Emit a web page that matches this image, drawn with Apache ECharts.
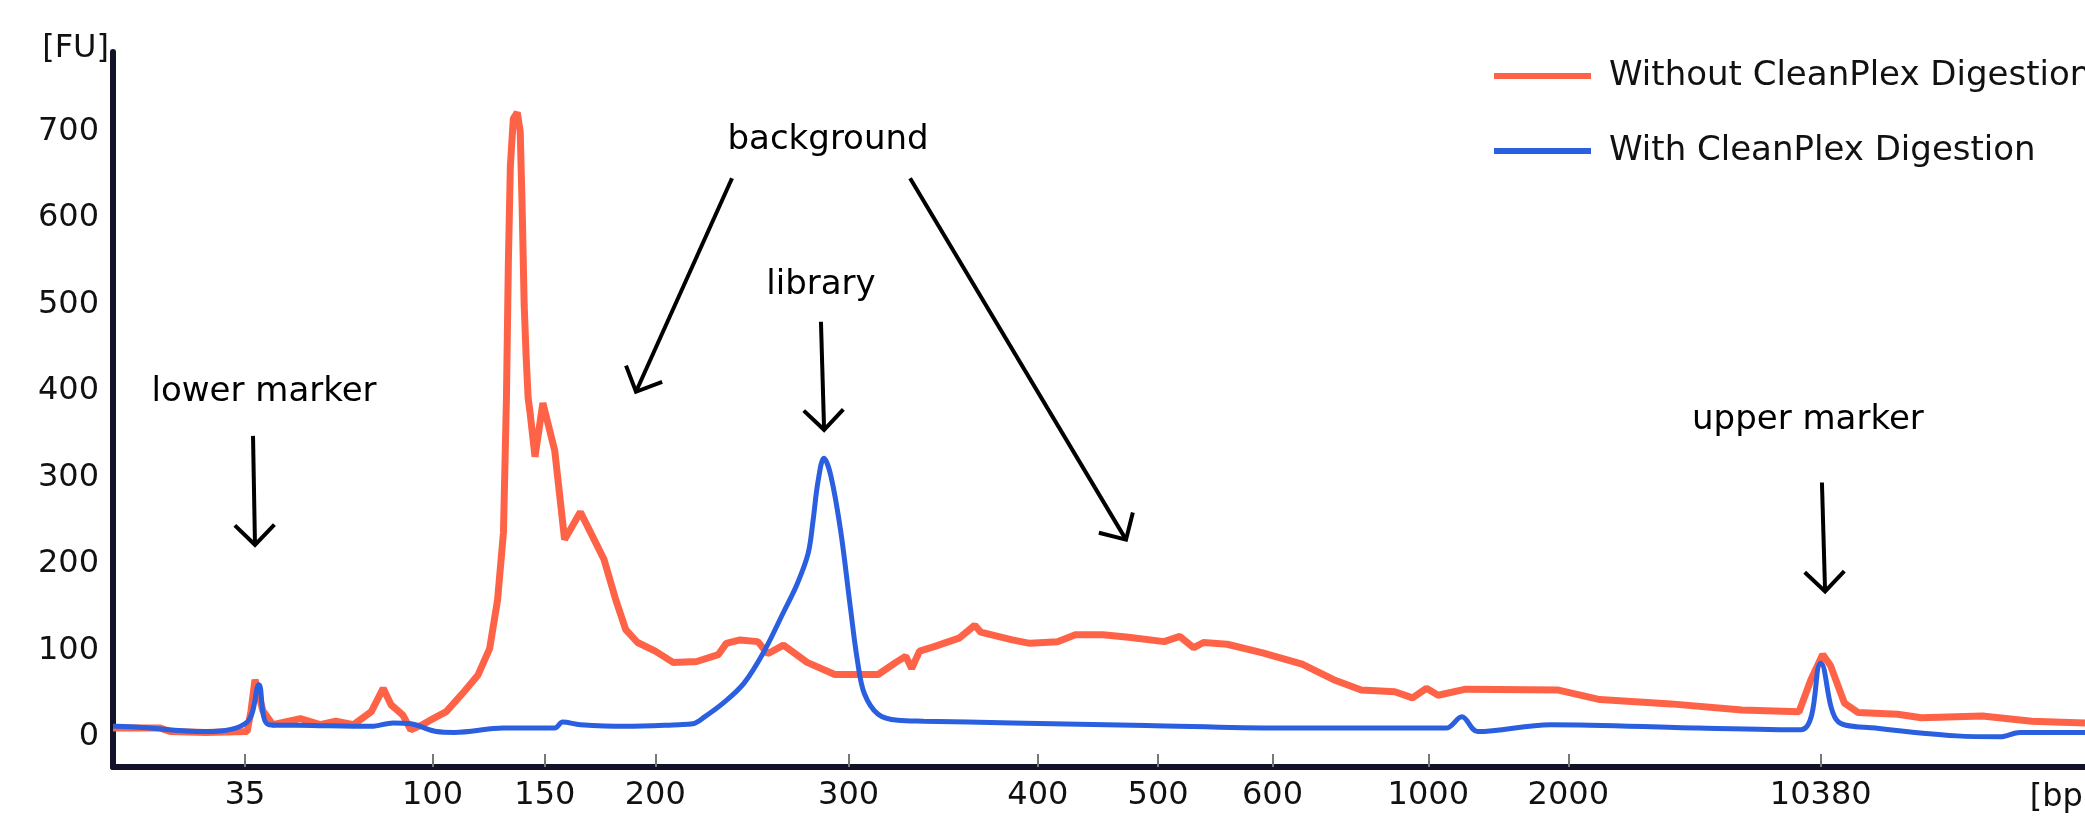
<!DOCTYPE html>
<html>
<head>
<meta charset="utf-8">
<title>CleanPlex digestion trace</title>
<script src="https://cdn.jsdelivr.net/npm/echarts@6/dist/echarts.min.js"></script>
<style>
  html, body { margin: 0; padding: 0; background: #fff; }
  #chart { width: 2085px; height: 824px; }
</style>
</head>
<body>
<div id="chart"></div>
<script>
// ladder: fragment size (bp) and the migration time (s) where it shows up
const ladderSizes = [35, 100, 150, 200, 300, 400, 500, 600, 1000, 2000, 10380];
const ladderTimes = [26.7, 36.2, 41.9, 47.5, 57.3, 66.9, 73.0, 78.8, 86.7, 93.8, 106.6];
const fuTicks = [0, 100, 200, 300, 400, 500, 600, 700];

// [migration time (s), fluorescence (FU)]
const withoutDigestion = [
  [20.0, 10], [20.15, 10], [22.4, 10], [22.9, 6], [24.7, 5], [26.8, 6], [27.0, 30], [27.2, 66],
  [27.6, 30], [28.1, 14], [29.5, 21], [30.5, 14], [31.3, 18], [32.2, 14], [33.1, 29], [33.7, 56],
  [34.1, 37], [34.7, 25], [35.1, 8], [35.7, 14], [36.0, 18], [36.9, 29], [37.8, 52], [38.5, 71],
  [39.1, 102], [39.5, 158], [39.8, 236], [39.95, 390], [40.05, 550], [40.15, 660], [40.3, 715],
  [40.5, 722], [40.65, 700], [40.75, 610], [40.85, 500], [40.95, 440], [41.05, 392], [41.15, 375],
  [41.4, 324], [41.8, 386], [42.4, 331], [42.9, 228], [43.7, 260], [44.4, 228], [44.9, 205],
  [45.5, 158], [46.0, 124], [46.6, 109], [47.5, 99], [48.4, 86], [49.6, 87], [50.7, 95], [51.1, 108],
  [51.8, 112], [52.7, 110], [53.2, 96], [54.0, 106], [55.2, 86], [56.6, 72], [58.8, 72], [59.7, 86],
  [60.2, 93], [60.5, 79], [60.9, 99], [61.6, 104], [62.9, 114], [63.7, 129], [64.0, 121], [65.6, 112],
  [66.5, 108], [67.9, 110], [68.8, 118], [70.2, 118], [71.5, 115], [73.3, 110], [74.1, 116],
  [74.8, 103], [75.3, 109], [76.5, 107], [78.3, 97], [80.3, 84], [81.9, 66], [83.3, 54], [85.0, 52],
  [85.9, 45], [86.6, 56], [87.2, 48], [88.6, 55], [93.3, 54], [95.4, 43], [99.0, 38], [102.6, 31],
  [105.5, 29], [106.1, 66], [106.7, 95], [107.1, 82], [107.8, 39], [108.5, 28], [110.5, 26],
  [111.7, 22], [114.8, 24], [117.3, 18], [120.0, 16]
];

const withDigestion = [
  [20.0, 12], [20.15, 12], [24.7, 6], [26.8, 17], [27.4, 60], [27.9, 14], [30.1, 13], [33.1, 12],
  [34.2, 16], [35.1, 15], [36.4, 6], [37.3, 5], [39.8, 10], [42.4, 10], [42.8, 17], [43.7, 14],
  [46.0, 12], [48.7, 14], [49.4, 15], [50.0, 23], [51.0, 40], [52.0, 62], [53.0, 98], [54.0, 144],
  [54.7, 177], [55.25, 212], [55.5, 250], [55.75, 295], [56.05, 322], [56.4, 302], [56.9, 238],
  [57.4, 148], [57.75, 88], [58.1, 50], [58.8, 26], [59.8, 19], [61.1, 18], [65.6, 16], [72.4, 13],
  [79.2, 10], [85.3, 10], [87.6, 10], [88.4, 23], [89.2, 6], [92.9, 14], [100.4, 10], [105.6, 8],
  [106.6, 85], [107.5, 17], [109.4, 10], [113.5, 1], [115.7, 0], [116.7, 5], [120.0, 5]
];

// annotation text anchors and arrows, in data coordinates [time, FU]
const notes = [
  { text: 'lower marker', at: [27.66, 399], from: [27.1, 348], to: [27.2, 222] },
  { text: 'background', at: [56.26, 690], from: [51.39, 646], to: [46.52, 399] },
  { text: '', at: null, from: [60.42, 646], to: [71.37, 228] },
  { text: 'library', at: [55.9, 522], from: [55.9, 480], to: [56.06, 355] },
  { text: 'upper marker', at: [105.95, 366], from: [106.66, 294], to: [106.82, 168] }
];

const chart = echarts.init(document.getElementById('chart'));
const font = 'DejaVu Sans';

function sizeLabel(t) {
  const i = ladderTimes.findIndex(v => Math.abs(v - t) < 0.01);
  return i >= 0 ? String(ladderSizes[i]) : '';
}

chart.setOption({
  animation: false,
  textStyle: { fontFamily: font },
  grid: { left: 113, right: 0, top: 52, bottom: 57, containLabel: false },
  legend: {
    orient: 'vertical',
    left: 1489,
    top: 51,
    itemWidth: 97,
    itemHeight: 6,
    itemGap: 35,
    icon: 'rect',
    textStyle: { fontSize: 34, color: '#111', lineHeight: 40, padding: [0, 0, 0, 13] },
    data: ['Without CleanPlex Digestion', 'With CleanPlex Digestion']
  },
  xAxis: {
    type: 'value',
    min: 20,
    max: 120,
    splitLine: { show: false },
    axisLine: { onZero: false, lineStyle: { color: '#12122a', width: 6 } },
    axisTick: { inside: true, length: 13, customValues: ladderTimes, lineStyle: { color: '#777', width: 2 } },
    axisLabel: {
      customValues: ladderTimes,
      formatter: sizeLabel,
      fontSize: 32,
      color: '#111',
      margin: 13
    }
  },
  yAxis: {
    type: 'value',
    min: -35,
    max: 792,
    splitLine: { show: false },
    axisLine: { show: true, onZero: false, lineStyle: { color: '#12122a', width: 6 } },
    axisTick: { show: false },
    axisLabel: { customValues: fuTicks, fontSize: 32, color: '#111', margin: 14 }
  },
  series: [
    {
      name: 'Without CleanPlex Digestion',
      type: 'line',
      data: withoutDigestion,
      showSymbol: false,
      color: '#ff6347',
      lineStyle: { width: 7, color: '#ff6347' }
    },
    {
      name: 'With CleanPlex Digestion',
      type: 'line',
      data: withDigestion,
      showSymbol: false,
      smooth: 0.35,
      color: '#2a5fe0',
      lineStyle: { width: 5, color: '#2a5fe0' }
    }
  ]
});

// annotations: arrows and labels drawn on top, placed through the grid's own scale
const px = p => chart.convertToPixel({ gridIndex: 0 }, p);
const graphics = [];
const arrowStyle = { stroke: '#000', lineWidth: 4, fill: null, lineJoin: 'miter' };

notes.forEach(n => {
  if (n.text) {
    const c = px(n.at);
    graphics.push({
      type: 'text', x: c[0], y: c[1],
      style: { text: n.text, font: '34px "' + font + '"', fill: '#000', align: 'center', verticalAlign: 'middle' }
    });
  }
  const a = px(n.from);
  const b = px(n.to);
  graphics.push({ type: 'line', shape: { x1: a[0], y1: a[1], x2: b[0], y2: b[1] }, style: arrowStyle });
  const ang = Math.atan2(a[1] - b[1], a[0] - b[0]);
  const len = 28;
  const spread = Math.PI / 4;
  graphics.push({
    type: 'polyline',
    shape: {
      points: [
        [b[0] + len * Math.cos(ang - spread), b[1] + len * Math.sin(ang - spread)],
        [b[0], b[1]],
        [b[0] + len * Math.cos(ang + spread), b[1] + len * Math.sin(ang + spread)]
      ]
    },
    style: arrowStyle
  });
});

// axis unit labels
const topLeft = px([20, 792]);
graphics.push({
  type: 'text', x: topLeft[0] - 4, y: topLeft[1] - 3,
  style: { text: '[FU]', font: '32px "' + font + '"', fill: '#111', align: 'right', verticalAlign: 'middle' }
});
const bpPos = px([117.2, -35]);
graphics.push({
  type: 'text', x: bpPos[0], y: bpPos[1] + 31,
  style: { text: '[bp]', font: '32px "' + font + '"', fill: '#111', align: 'left', verticalAlign: 'middle' }
});

chart.setOption({ graphic: graphics });
</script>
</body>
</html>
